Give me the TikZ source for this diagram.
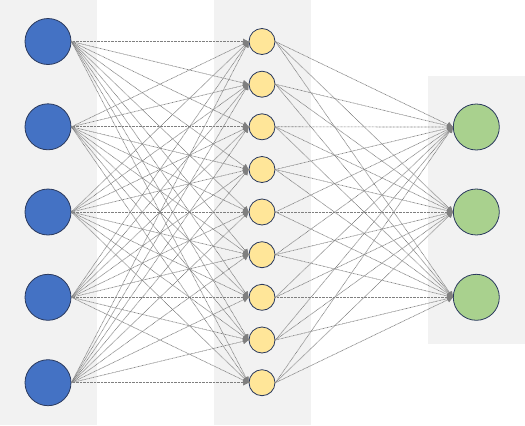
\documentclass[tikz,border=0pt]{standalone}
\usetikzlibrary{arrows.meta}
\definecolor{band}{HTML}{F2F2F2}
\definecolor{inblue}{HTML}{4472C4}
\definecolor{hidyel}{HTML}{FFE699}
\definecolor{outgrn}{HTML}{A9D18E}
\definecolor{rim}{HTML}{2B3A5E}
\definecolor{edgegray}{HTML}{7F7F7F}
\begin{document}
\begin{tikzpicture}[x=0.75pt,y=-0.75pt,
  neuron/.style={circle,draw=rim,line width=0.6pt,inner sep=0pt},
  innode/.style={neuron,fill=inblue,minimum size=34.5pt},
  hidnode/.style={neuron,fill=hidyel,minimum size=19.5pt},
  outnode/.style={neuron,fill=outgrn,minimum size=34.5pt},
  conn/.style={draw=edgegray,line width=0.5pt,dash pattern=on 0.6pt off 0.45pt,
    -{Triangle[length=4.2pt,width=4.2pt,color=edgegray,fill=edgegray]}}]
\useasboundingbox (0,0) rectangle (525,425);
\fill[band] (0,0) rectangle (97,425);
\fill[band] (214,0) rectangle (311,425);
\fill[band] (428,76) rectangle (525,344);
\foreach \i/\y in {1/41.5,2/126.8,3/212,4/297.3,5/382.7}
  \node[innode] (i\i) at (48,\y) {};
\foreach \j/\y in {1/41.5,2/84.2,3/126.8,4/169.5,5/212,6/254.7,7/297.3,8/340,9/382.7}
  \node[hidnode] (h\j) at (262,\y) {};
\foreach \k/\y in {1/127,2/212,3/297.3}
  \node[outnode] (o\k) at (476.3,\y) {};
\foreach \i in {1,...,5}
  \foreach \j in {1,...,9}
    \draw[conn] (i\i.east) -- (h\j.west);
\foreach \j in {1,...,9}
  \foreach \k in {1,...,3}
    \draw[conn] (h\j.east) -- (o\k.west);
\end{tikzpicture}
\end{document}
